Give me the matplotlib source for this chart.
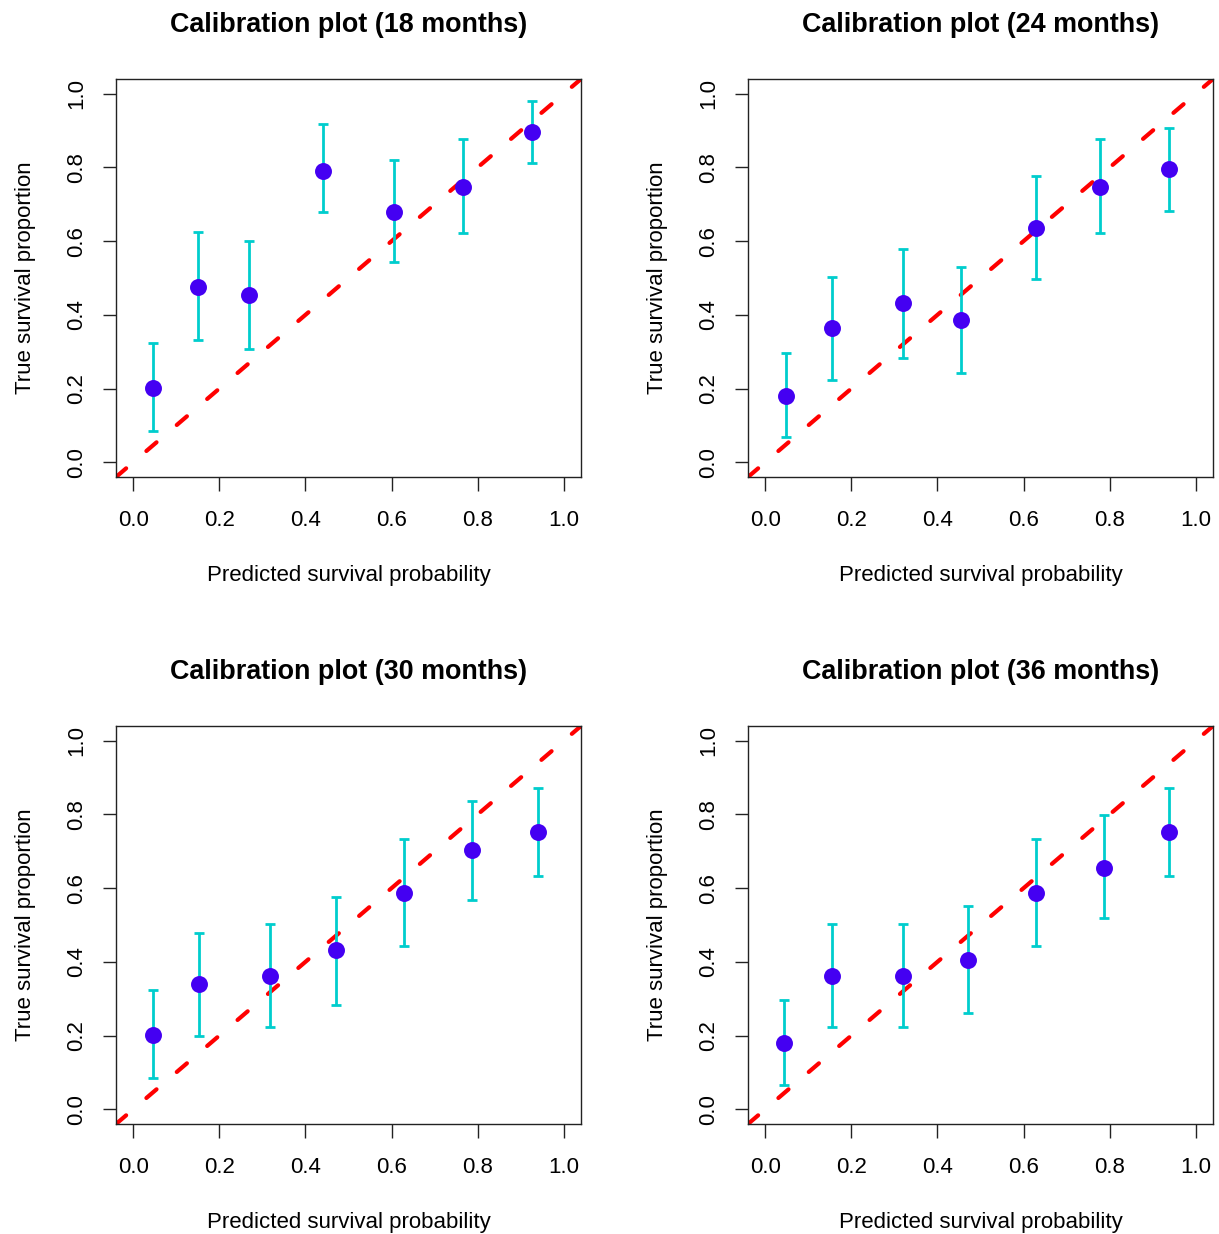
#!/usr/bin/env python

# Four calibration plots (predicted vs observed survival) in the R base-graphics look
import matplotlib
matplotlib.use("Agg")
import matplotlib.pyplot as plt
from matplotlib.ticker import FormatStrFormatter

plt.rcParams['font.family'] = ['Liberation Sans', 'DejaVu Sans']

titles = ["Calibration plot (18 months)", "Calibration plot (24 months)",
          "Calibration plot (30 months)", "Calibration plot (36 months)"]

# predicted probability, observed proportion, lower and upper CI, one list per panel
pred_18 = [0.047, 0.150, 0.268, 0.441, 0.606, 0.767, 0.926]
obs_18 = [0.202, 0.475, 0.453, 0.791, 0.678, 0.748, 0.895]
lo_18 = [0.085, 0.332, 0.306, 0.678, 0.544, 0.622, 0.812]
hi_18 = [0.323, 0.626, 0.601, 0.918, 0.821, 0.877, 0.981]

pred_24 = [0.048, 0.154, 0.320, 0.455, 0.630, 0.777, 0.937]
obs_24 = [0.181, 0.363, 0.432, 0.385, 0.635, 0.748, 0.796]
lo_24 = [0.068, 0.223, 0.283, 0.241, 0.496, 0.622, 0.683]
hi_24 = [0.297, 0.504, 0.578, 0.531, 0.778, 0.877, 0.908]

pred_30 = [0.045, 0.153, 0.318, 0.470, 0.630, 0.786, 0.939]
obs_30 = [0.202, 0.341, 0.362, 0.431, 0.586, 0.704, 0.752]
lo_30 = [0.084, 0.200, 0.223, 0.283, 0.443, 0.569, 0.633]
hi_30 = [0.323, 0.478, 0.504, 0.577, 0.734, 0.837, 0.873]

pred_36 = [0.044, 0.155, 0.320, 0.470, 0.630, 0.787, 0.938]
obs_36 = [0.181, 0.362, 0.362, 0.404, 0.586, 0.656, 0.752]
lo_36 = [0.066, 0.223, 0.223, 0.262, 0.443, 0.518, 0.633]
hi_36 = [0.297, 0.504, 0.504, 0.552, 0.734, 0.799, 0.873]

panels = [(pred_18, obs_18, lo_18, hi_18),
          (pred_24, obs_24, lo_24, hi_24),
          (pred_30, obs_30, lo_30, hi_30),
          (pred_36, obs_36, lo_36, hi_36)]

ticks = [0.0, 0.2, 0.4, 0.6, 0.8, 1.0]

W, H = 1219, 1234
fig = plt.figure(figsize=(W/100, H/100), dpi=100, facecolor='white')

# axes boxes in pixels: left, top, right, bottom
boxes = [(116, 79, 581, 477), (748, 79, 1213, 477),
         (116, 726, 581, 1124), (748, 726, 1213, 1124)]

for (l, t, r, b), title, (x, y, lo, hi) in zip(boxes, titles, panels):
    ax = fig.add_axes([l/W, 1-b/H, (r-l)/W, (b-t)/H])
    ax.set_xlim(-0.04, 1.04)
    ax.set_ylim(-0.04, 1.04)

    # ideal calibration line
    ax.axline((0, 0), slope=1, color='#ff0000', linewidth=3.0,
              dashes=(3.2, 6.4), dash_capstyle='round', zorder=1)

    yerr = [[o - a for o, a in zip(y, lo)], [c - o for o, c in zip(y, hi)]]
    ax.errorbar(x, y, yerr=yerr, fmt='none', ecolor='#00cdcd',
                elinewidth=2.0, capsize=3.8, capthick=2.0, zorder=2)
    ax.plot(x, y, 'o', color='#4400f2', markersize=12.2,
            markeredgewidth=0, zorder=3, clip_on=False)

    ax.set_xticks(ticks)
    ax.set_yticks(ticks)
    ax.xaxis.set_major_formatter(FormatStrFormatter('%.1f'))
    ax.yaxis.set_major_formatter(FormatStrFormatter('%.1f'))
    ax.tick_params(direction='out', length=10, width=1.0, color='#222222',
                   labelsize=16, pad=14)
    ax.tick_params(axis='y', labelrotation=90, length=9.5, pad=11)
    for lab in ax.get_yticklabels():
        lab.set_va('center')
    for s in ax.spines.values():
        s.set_linewidth(1.0)
        s.set_color('#222222')

    ax.set_xlabel("Predicted survival probability", fontsize=16)
    ax.set_ylabel("True survival proportion", fontsize=16)
    ax.xaxis.set_label_coords(0.5, -0.221)
    ax.yaxis.set_label_coords(-0.173, 0.5)
    ax.set_title(title, fontsize=19.4, fontweight='bold', pad=34)

fig.savefig('out.png', dpi=100)
